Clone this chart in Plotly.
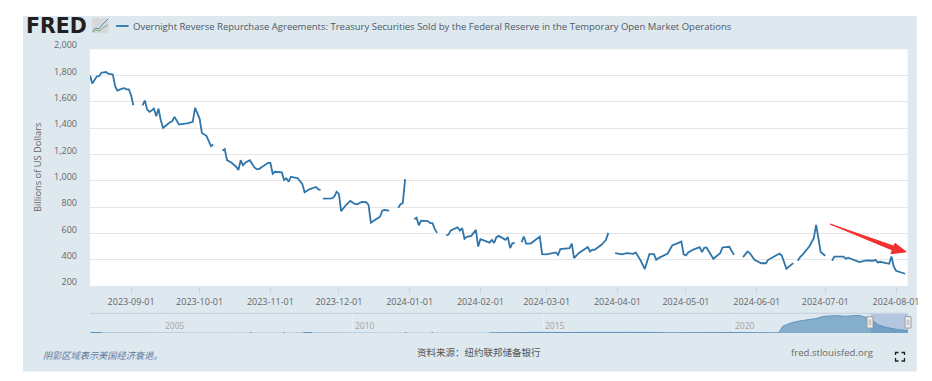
import plotly.graph_objects as go

# The page body keeps its default 8 px margin, so the figure is laid out from (8, 8).
PAGE_W, PAGE_H = 932, 381
OFFSET = 8
W, H = PAGE_W - OFFSET, PAGE_H - OFFSET

# Main series, Billions of US Dollars; None marks a gap in the line
dates = [
    "2023-08-14","2023-08-15","2023-08-17","2023-08-18","2023-08-19","2023-08-21","2023-08-22","2023-08-24",
    "2023-08-25","2023-08-26","2023-08-28","2023-08-29","2023-08-30","2023-08-31","2023-09-01","2023-09-02","2023-09-03",
    "2023-09-06","2023-09-07","2023-09-08","2023-09-09","2023-09-10","2023-09-11","2023-09-12","2023-09-13","2023-09-14",
    "2023-09-15","2023-09-18","2023-09-19","2023-09-20","2023-09-22","2023-09-26","2023-09-28","2023-09-29","2023-10-01",
    "2023-10-02","2023-10-04","2023-10-06","2023-10-07","2023-10-09",
    "2023-10-11","2023-10-12","2023-10-13","2023-10-15","2023-10-17","2023-10-18","2023-10-19","2023-10-20","2023-10-21",
    "2023-10-23","2023-10-25","2023-10-26","2023-10-27","2023-10-31","2023-11-01","2023-11-02","2023-11-03","2023-11-06",
    "2023-11-07","2023-11-08","2023-11-09","2023-11-10","2023-11-13","2023-11-15","2023-11-16","2023-11-18","2023-11-21",
    "2023-11-22","2023-11-23","2023-11-23 12:00",
    "2023-11-24","2023-11-28","2023-11-29","2023-11-30","2023-12-01","2023-12-02","2023-12-04","2023-12-06","2023-12-08",
    "2023-12-09","2023-12-11","2023-12-13","2023-12-14","2023-12-15","2023-12-19","2023-12-20","2023-12-21","2023-12-23","2023-12-25",
    "2023-12-27","2023-12-28","2023-12-29","2023-12-30","2024-01-01",
    "2024-01-03","2024-01-04","2024-01-05","2024-01-06","2024-01-09","2024-01-10","2024-01-11","2024-01-12","2024-01-13","2024-01-15",
    "2024-01-17","2024-01-18","2024-01-19","2024-01-22","2024-01-23","2024-01-24","2024-01-25","2024-01-26","2024-01-28",
    "2024-01-30","2024-01-31","2024-02-01","2024-02-05","2024-02-06","2024-02-07","2024-02-08","2024-02-09","2024-02-12",
    "2024-02-13","2024-02-14","2024-02-15","2024-02-16","2024-02-17","2024-02-19",
    "2024-02-20","2024-02-21","2024-02-23","2024-02-27","2024-02-28","2024-03-01","2024-03-05","2024-03-06","2024-03-07",
    "2024-03-11","2024-03-12","2024-03-13","2024-03-15","2024-03-19","2024-03-20","2024-03-21","2024-03-22","2024-03-25",
    "2024-03-27","2024-03-28","2024-03-29","2024-03-31",
    "2024-04-02","2024-04-03","2024-04-05","2024-04-08","2024-04-09","2024-04-11","2024-04-13","2024-04-15","2024-04-17",
    "2024-04-18","2024-04-19","2024-04-22","2024-04-23","2024-04-25","2024-04-29","2024-04-30","2024-05-01","2024-05-02",
    "2024-05-04","2024-05-07","2024-05-08","2024-05-09","2024-05-10","2024-05-13","2024-05-16","2024-05-17","2024-05-20",
    "2024-05-22","2024-05-24","2024-05-26",
    "2024-05-28","2024-05-29","2024-05-31","2024-06-03","2024-06-05","2024-06-06","2024-06-08","2024-06-11","2024-06-12",
    "2024-06-13","2024-06-14","2024-06-17","2024-06-18","2024-06-19",
    "2024-06-20","2024-06-21","2024-06-24","2024-06-26","2024-06-27","2024-06-28","2024-06-29","2024-07-01","2024-07-03","2024-07-04",
    "2024-07-05","2024-07-09","2024-07-10","2024-07-11","2024-07-16","2024-07-19","2024-07-22","2024-07-23","2024-07-24",
    "2024-07-25","2024-07-29","2024-07-30","2024-07-31","2024-08-01","2024-08-05","2024-08-06",
]
values = [
    1800,1739,1794,1796,1822,1827,1815,1809,
    1720,1686,1701,1705,1696,1696,1650,1574,None,
    1574,1610,1544,1524,1534,1549,1491,1549,1461,
    1402,1445,1453,1486,1428,1438,1448,1554,1473,
    1364,1342,1263,1276,None,
    1228,1241,1157,1137,1107,1082,1157,1117,1137,
    1157,1102,1089,1089,1137,1137,1054,1069,1064,
    1006,1019,993,1031,1019,975,913,935,953,
    935,930,None,
    864,867,879,917,900,769,814,847,824,
    822,839,837,816,682,727,773,778,773,None,
    796,822,831,1013,None,
    708,720,662,697,693,678,678,632,604,None,
    584,591,623,646,621,640,559,574,
    581,627,500,556,530,551,528,571,581,
    551,571,488,526,526,None,
    534,576,523,523,576,443,440,455,437,
    480,488,523,412,450,496,462,477,475,
    513,551,604,None,
    450,440,440,450,445,455,399,329,443,
    443,399,412,437,447,508,538,440,432,
    455,475,496,458,490,493,407,450,493,
    498,437,None,
    420,462,449,399,373,373,399,420,447,
    430,386,331,374,None,
    392,420,437,500,564,665,564,458,430,None,
    392,424,424,407,415,382,394,392,399,
    379,384,369,424,349,316,293,
]

# Overview strip underneath: the whole history of the series
nav_dates = [
    "2003-02-05","2003-05-25","2003-06-01","2007-04-15","2007-05-01","2007-05-05","2008-03-01","2008-03-15","2008-03-20",
    "2008-09-10","2008-12-05","2008-12-10","2011-05-15","2011-05-30","2011-06-01","2012-01-25","2012-02-10","2012-02-15",
    "2013-08-01","2013-09-15","2014-01-15","2014-05-25","2014-09-15","2015-01-15","2015-05-15","2016-01-01","2016-08-01",
    "2016-11-25","2017-04-15","2017-11-25","2018-04-15","2019-11-25","2020-06-01","2021-03-15","2021-04-20","2021-07-08",
    "2021-09-27","2022-01-01","2022-03-03","2022-05-22","2022-09-08","2022-12-15","2023-04-20","2023-06-20","2023-08-14",
    "2023-10-20","2024-01-20","2024-05-08","2024-08-06",
]
nav_values = [
    60,60,None,40,40,None,40,40,None,
    60,60,None,40,40,None,40,40,None,
    20,30,60,110,60,80,60,90,90,
    140,80,70,20,60,15,20,840,1250,
    1500,1670,1800,2090,2170,2090,2210,2000,1800,
    1050,675,420,300,
]
nav_labels = ["2005", "2010", "2015", "2020"]
nav_label_dates = ["2005-01-01", "2010-01-01", "2015-01-01", "2020-01-01"]

title_text = "Overnight Reverse Repurchase Agreements: Treasury Securities Sold by the Federal Reserve in the Temporary Open Market Operations"
y_title = "Billions of US Dollars"
note_text = "阴影区域表示美国经济衰退。"
source_text = "资料来源：纽约联邦储备银行"
site_text = "fred.stlouisfed.org"

PANEL = "#dee8ef"
LINE = "#2f75a9"
TICK = "#666666"
SANS = "Open Sans"
CJK = "Noto Sans CJK SC"


def px(x):
    return (x - OFFSET) / W


def py(y):
    return 1 - (y - OFFSET) / H


def rect(x0, y0, x1, y1, fill, line=None, layer="below"):
    return dict(type="rect", xref="paper", yref="paper", x0=px(x0), x1=px(x1), y0=py(y1), y1=py(y0),
                fillcolor=fill, line=dict(color=line or fill, width=1 if line else 0), layer=layer)


def path(points, fill=None, line=None, width=1, close=False, layer="above"):
    d = "M " + " L ".join(f"{px(a):.5f},{py(b):.5f}" for a, b in points) + (" Z" if close else "")
    return dict(type="path", xref="paper", yref="paper", path=d, fillcolor=fill or "rgba(0,0,0,0)",
                line=dict(color=line or "rgba(0,0,0,0)", width=width), layer=layer)


fig = go.Figure()
fig.add_trace(go.Scatter(x=dates, y=values, mode="lines", line=dict(color=LINE, width=1.8), connectgaps=False,
                         name=title_text, xaxis="x", yaxis="y", showlegend=False))
fig.add_trace(go.Scatter(x=nav_dates, y=nav_values, mode="lines", line=dict(color="#5f94c0", width=1), connectgaps=False,
                         fill="tozeroy", fillcolor="rgba(60,125,175,0.55)", xaxis="x2", yaxis="y2", showlegend=False))

shapes = [
    rect(23, 16, 916.7, 371.5, PANEL),
    rect(90, 49.3, 907.7, 286, "#ffffff"),
    dict(type="rect", xref="x2", yref="y2", x0="2023-08-14", x1="2024-08-06", y0=0, y1=2375,
         fillcolor="#b3c7e0", line=dict(width=0), layer="below"),
    # overview strip top rule
    path([(90, 313.3), (908, 313.3)], line="#c9d2e0", width=1.2),
    # legend key
    path([(116, 26), (128.6, 26)], line=LINE, width=1.8),
    # small graph icon next to the logo
    rect(92, 18, 108.5, 33, "#d5d9d9"),
    path([(92.5, 31), (96, 28), (99, 29), (103, 24), (108, 19)], line="#5f8fa8", width=1),
    path([(92.5, 32), (96, 30), (100, 31), (104, 27), (108, 25)], line="#7fae7a", width=1),
    # red arrow
    path([(830, 224), (894, 246.2), (895, 243.3), (906.2, 251.8), (891, 253.7), (892.3, 250)],
         fill="#f2302e", line="#f2302e", width=1, close=True),
    # range handles
    rect(867, 316.7, 873, 328, "#f2f2f2", "#9a9a9a", "above"),
    rect(905, 316.7, 911, 328, "#f2f2f2", "#9a9a9a", "above"),
    path([(869.2, 319.5), (869.2, 325.5)], line="#b5b5b5", width=1),
    path([(870.8, 319.5), (870.8, 325.5)], line="#b5b5b5", width=1),
    path([(907.2, 319.5), (907.2, 325.5)], line="#b5b5b5", width=1),
    path([(908.8, 319.5), (908.8, 325.5)], line="#b5b5b5", width=1),
    # fullscreen icon
    path([(895.5, 355), (895.5, 352.5), (898.5, 352.5)], line="#222222", width=1.3),
    path([(901.5, 352.5), (904.5, 352.5), (904.5, 355)], line="#222222", width=1.3),
    path([(895.5, 358), (895.5, 361), (898.5, 361)], line="#222222", width=1.3),
    path([(901.5, 361), (904.5, 361), (904.5, 358)], line="#222222", width=1.3),
]


def note(text, x, y, size, color, family=SANS, anchor="left", **kw):
    return dict(text=text, xref="paper", yref="paper", x=px(x), y=py(y), xanchor=anchor, yanchor="middle",
                showarrow=False, font=dict(family=family, size=size, color=color), **kw)


annotations = [
    note("<b>FRED</b>", 24, 26, 20.5, "#231f20", family="DejaVu Sans"),
    note(title_text, 130.5, 26, 9.53, "#4d5a66"),
    note(y_title, 37, 167, 9.3, TICK, anchor="center", textangle=-90),
    note("<i>" + note_text + "</i>", 40.5, 355, 9.2, "#5d7a9c", family=CJK),
    note(source_text, 415, 351.5, 9.5, "#555555", family=CJK),
    note(site_text, 789, 352, 9.6, "#6a6a6a"),
]
for label, day in zip(nav_labels, nav_label_dates):
    annotations.append(dict(text=label, x=day, y=1000, xref="x2", yref="y2", xanchor="left", yanchor="middle",
                            xshift=0, showarrow=False, font=dict(family=SANS, size=8.5, color="#a6a6a6")))

fig.update_layout(
    width=W, height=H, autosize=False,
    margin=dict(l=0, r=0, t=0, b=0),
    paper_bgcolor="#ffffff", plot_bgcolor="rgba(0,0,0,0)",
    hovermode=False,
    shapes=shapes, annotations=annotations,
    xaxis=dict(domain=[px(90), px(908)], range=["2023-08-14", "2024-08-06 06:00"], anchor="y", automargin=False,
               type="date", tick0="2023-09-01", dtick="M1", tickformat="%Y-%m-%d",
               showgrid=False, zeroline=False, showline=False,
               ticks="outside", ticklen=7, tickcolor="#c9d6e8", tickwidth=1,
               tickfont=dict(family=SANS, size=9, color=TICK)),
    yaxis=dict(domain=[py(286), py(49.3)], range=[200, 2000], anchor="x", dtick=200, tick0=200, automargin=False,
               tickformat=",", showgrid=True, gridcolor="#e6e6e6", gridwidth=1, zeroline=False, showline=False,
               ticks="", ticklabelstandoff=12, ticklabelshift=-4,
               tickfont=dict(family=SANS, size=9, color=TICK)),
    xaxis2=dict(domain=[px(90), px(908)], range=["2003-02-01", "2024-08-06 06:00"], anchor="y2", type="date",
                automargin=False, tickvals=nav_label_dates, showticklabels=False, showgrid=True,
                gridcolor="#e9eef3", gridwidth=1, zeroline=False, showline=False, ticks=""),
    yaxis2=dict(domain=[py(333), py(314)], range=[0, 2375], anchor="x2", automargin=False, showgrid=False,
                zeroline=False, showline=False, showticklabels=False, ticks=""),
)

fig.write_html("out.html")
